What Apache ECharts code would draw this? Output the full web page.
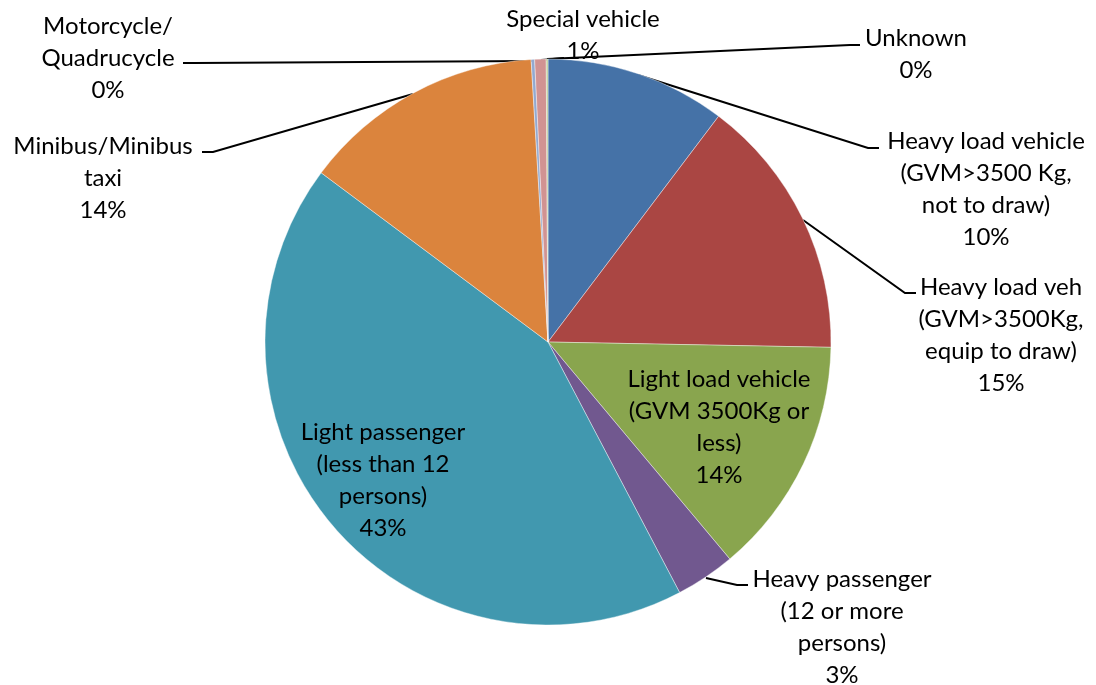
<!DOCTYPE html>
<html>
<head>
<meta charset="utf-8">
<script src="https://cdn.jsdelivr.net/npm/echarts@6/dist/echarts.min.js"></script>
<style>
html,body{margin:0;padding:0;background:#fff;}
#chart{width:1096px;height:685px;}
</style>
</head>
<body>
<div id="chart"></div>
<script>
// Categories (label text as wrapped in the reference)
const categories = [
  "Heavy load vehicle\n(GVM>3500 Kg,\nnot to draw)",
  "Heavy load veh\n(GVM>3500Kg,\nequip to draw)",
  "Light load vehicle\n(GVM 3500Kg or\nless)",
  "Heavy passenger\n(12 or more\npersons)",
  "Light passenger\n(less than 12\npersons)",
  "Minibus/Minibus\ntaxi",
  "Motorcycle/\nQuadrucycle",
  "Special vehicle",
  "Unknown"
];
// Shares (%)
const values = [10.3, 15.0, 13.6, 3.4, 42.9, 13.85, 0.2, 0.65, 0.1];

const colors = ['#4572A7','#AA4643','#89A54E','#71588F','#4198AF','#DB843D','#93A9CF','#D19392','#B9CD96'];
const insideIdx = [2, 4];

// label placement (centre of label block) and leader lines
const labelPlace = [
  {x: 986, y: 189, line: [[638,75],[868,148],[879,148]]},
  {x: 1001, y: 335, line: [[803,220],[905,293],[916,293]]},
  {x: 719, y: 427, line: null},
  {x: 842, y: 627, line: [[706,578],[737,585],[748,585]]},
  {x: 383, y: 480, line: null},
  {x: 103, y: 178, line: [[413,94],[213,152],[202,152]]},
  {x: 108, y: 58, line: [[533,61],[195,63],[183,63]]},
  {x: 583, y: 35, line: [[541,60],[564,58]]},
  {x: 916, y: 54, line: [[547,59],[850,45],[860,45]]}
];

const total = values.reduce((a, b) => a + b, 0);
const data = categories.map((name, i) => ({
  name: name,
  value: values[i],
  itemStyle: {color: colors[i]},
  labelLine: {show: insideIdx.indexOf(i) < 0}
}));

const chart = echarts.init(document.getElementById('chart'), null, {renderer: 'canvas'});
chart.setOption({
  animation: false,
  backgroundColor: '#fff',
  series: [{
    type: 'pie',
    center: [548, 342],
    radius: [0, 283],
    startAngle: 90,
    clockwise: true,
    data: data,
    itemStyle: {borderColor: '#ffffff', borderWidth: 0.4},
    label: {
      show: true,
      position: 'outside',
      color: '#000',
      fontFamily: 'Lato',
      fontSize: 24,
      lineHeight: 32,
      align: 'center',
      formatter: p => p.name + '\n' + Math.round(p.value / total * 100) + '%'
    },
    labelLine: {show: true, lineStyle: {color: '#000', width: 2}},
    labelLayout: function (params) {
      const pl = labelPlace[params.dataIndex];
      const out = {x: pl.x, y: pl.y, align: 'center', verticalAlign: 'middle', hideOverlap: false, moveOverlap: null};
      if (pl.line) out.labelLinePoints = pl.line;
      return out;
    }
  }]
});
</script>
</body>
</html>
